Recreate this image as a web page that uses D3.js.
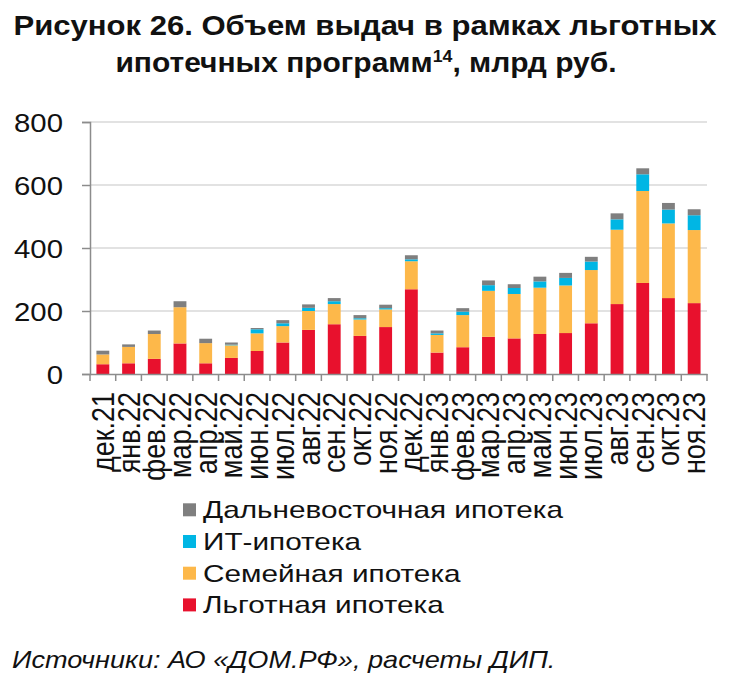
<!DOCTYPE html>
<html><head><meta charset="utf-8">
<script src="https://cdn.jsdelivr.net/npm/d3@7"></script>
<style>body{margin:0;background:#fff;}svg{display:block;}</style>
</head><body>
<svg id="c" width="729" height="690"></svg>
<script>
const categories = ["дек.21","янв.22","фев.22","мар.22","апр.22","май.22","июн.22","июл.22","авг.22","сен.22","окт.22","ноя.22","дек.22","янв.23","фев.23","мар.23","апр.23","май.23","июн.23","июл.23","авг.23","сен.23","окт.23","ноя.23"];
const lgotnaya   = [31,34,48,97,34,51,73,100,140,158,121,149,269,68,85,118,113,127,130,161,222,289,241,225];
const semeynaya  = [31,52,79,115,64,40,56,52,60,64,52,56,89,56,102,146,141,147,151,169,236,292,237,232];
const itIpoteka  = [0,0,0,0,0,2,13,9,10,9,4,4,6,5,11,18,19,20,24,27,33,53,44,47];
const dalnevost  = [12,8,11,19,14,7,4,10,11,10,10,11,13,9,11,15,12,15,16,15,19,19,21,19];
const yTicks = [0,200,400,600,800];
const seriesNames = ["Льготная ипотека","Семейная ипотека","ИТ-ипотека","Дальневосточная ипотека"];
const seriesColors = ["#e8112d","#fdb84a","#00b6e4","#7f7f7f"];

const rows = categories.map((c,i)=>({cat:c, s0:lgotnaya[i], s1:semeynaya[i], s2:itIpoteka[i], s3:dalnevost[i]}));
const stack = d3.stack().keys(["s0","s1","s2","s3"])(rows);

const FONT = "Liberation Sans, Arial, sans-serif";
const SX = 1.13; // horizontal stretch of the reference's text

const svg = d3.select("#c");
const L = 90, R = 707, T = 122, B = 374;
const x = d3.scaleBand().domain(categories).range([L,R]).paddingInner(0.5).paddingOuter(0.25);
const y = d3.scaleLinear().domain([0,800]).range([B,T]);

// gridlines
svg.append("g").selectAll("line").data(yTicks.filter(d=>d>0)).join("line")
  .attr("x1",L).attr("x2",R).attr("y1",d=>y(d)).attr("y2",d=>y(d))
  .attr("stroke","#d9d9d9").attr("stroke-width",1.3);

// bars
svg.append("g").selectAll("g").data(stack).join("g")
  .attr("fill",(d,i)=>seriesColors[i])
  .selectAll("rect").data(d=>d).join("rect")
  .attr("x",d=>x(d.data.cat)).attr("width",x.bandwidth())
  .attr("y",d=>y(d[1])).attr("height",d=>Math.max(0,y(d[0])-y(d[1])));

// y axis
const ya = svg.append("g").attr("transform",`translate(${L},0)`)
  .call(d3.axisLeft(y).tickValues(yTicks).tickSize(8));
ya.select(".domain").attr("stroke","#8c8c8c").attr("stroke-width",1.5);
ya.selectAll(".tick line").attr("stroke","#8c8c8c").attr("stroke-width",1.5);
ya.selectAll(".tick text").attr("font-family",FONT).attr("font-size",26).attr("fill","#111")
  .attr("text-anchor","end").attr("x",-27/SX).attr("dy","0.36em")
  .attr("transform",`scale(${SX},1)`);

// x axis
const xa = svg.append("g").attr("transform",`translate(0,${B})`)
  .call(d3.axisBottom(x).tickSize(0));
xa.select(".domain").attr("stroke","#8c8c8c").attr("stroke-width",1.5);
const bounds = d3.range(categories.length+1).map(i=>L + i*(R-L)/categories.length);
xa.append("g").selectAll("line").data(bounds).join("line")
  .attr("x1",d=>d).attr("x2",d=>d).attr("y1",0).attr("y2",7)
  .attr("stroke","#8c8c8c").attr("stroke-width",1.5);
xa.selectAll(".tick text")
  .attr("font-family",FONT).attr("font-size",27).attr("fill","#111")
  .attr("transform",`scale(${SX},1) rotate(-90)`).attr("text-anchor","end")
  .attr("x",-18).attr("y",0).attr("dy","0.36em");

// stretched text helper
function stext(g, x0, y0, size, txt, opts={}){
  const t = g.append("text").attr("transform",`translate(${x0},${y0}) scale(${opts.sx||SX},1)`)
    .attr("font-family",FONT).attr("font-size",size).attr("fill","#111");
  if(opts.anchor) t.attr("text-anchor",opts.anchor);
  if(opts.bold) t.attr("font-weight","bold");
  if(opts.italic) t.attr("font-style","italic");
  if(txt!==null) t.text(txt);
  return t;
}

// title
stext(svg, 365, 34.5, 27, "Рисунок 26. Объем выдач в рамках льготных", {anchor:"middle", bold:true, sx:1.15});
const t2 = stext(svg, 366, 71.5, 27, null, {anchor:"middle", bold:true, sx:1.11});
t2.append("tspan").text("ипотечных программ");
t2.append("tspan").attr("font-size",16).attr("dy",-10).text("14");
t2.append("tspan").attr("dy",10).text(", млрд руб.");

// legend
const legendOrder = [3,2,1,0];
const lg = svg.append("g");
legendOrder.forEach((si,k)=>{
  const base = 518.3 + k*31.7;
  lg.append("rect").attr("x",183).attr("y",base-15).attr("width",13).attr("height",13).attr("fill",seriesColors[si]);
  stext(lg, 203, base, 24, seriesNames[si], {sx:1.24});
});

// source
stext(svg, 12, 668, 24, "Источники: АО «ДОМ.РФ», расчеты ДИП.", {italic:true, sx:1.13});
</script>
</body></html>
